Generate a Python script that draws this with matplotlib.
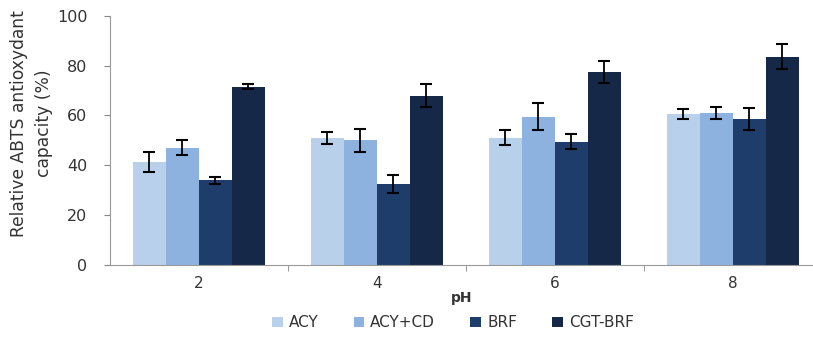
import matplotlib.pyplot as plt
import numpy as np

plt.rcParams['font.family'] = ['DejaVu Sans']

ph = ['2', '4', '6', '8']
series = ['ACY', 'ACY+CD', 'BRF', 'CGT-BRF']
acy = [41.5, 51, 51, 60.5]
acy_cd = [47, 50, 59.5, 61]
brf = [34, 32.5, 49.5, 58.5]
cgt_brf = [71.5, 68, 77.5, 83.5]
err_acy = [4, 2.5, 3, 2]
err_acy_cd = [3, 4.5, 5.5, 2.5]
err_brf = [1.5, 3.5, 3, 4.5]
err_cgt_brf = [1, 4.5, 4.5, 5]

values = [acy, acy_cd, brf, cgt_brf]
errors = [err_acy, err_acy_cd, err_brf, err_cgt_brf]
colors = ['#b9d0ea', '#8db2e0', '#1f3d6b', '#152847']

fig = plt.figure(figsize=(8.13, 3.6), dpi=100)
ax = fig.add_axes([0.135, 0.264, 0.865, 0.692])

x = np.arange(len(ph))
w = 0.185
for i, (v, e, c, name) in enumerate(zip(values, errors, colors, series)):
    pos = x + (i - 1.5) * w
    ax.bar(pos, v, width=w, color=c, label=name)
    ax.errorbar(pos, v, yerr=e, fmt='none', ecolor='black', elinewidth=1.3,
                capsize=4, capthick=1.5)

ax.set_ylim(0, 100)
ax.set_yticks(range(0, 101, 20))
ax.set_xlim(-0.5, 3.45)
ax.set_xticks(x)
ax.set_xticklabels(ph)
ax.set_xticks(np.arange(0.5, 3.5, 1), minor=True)
ax.tick_params(axis='x', which='major', length=0, pad=8, labelsize=11, colors='#333333')
ax.tick_params(axis='x', which='minor', length=4, color='#888888')
ax.tick_params(axis='y', length=4, color='#888888', labelsize=11.5, labelcolor='#333333',
               pad=12)

for s in ['top', 'right']:
    ax.spines[s].set_visible(False)
ax.spines['left'].set_color('#999999')
ax.spines['bottom'].set_color('#999999')

ax.set_xlabel('pH', fontsize=10, fontweight='bold', color='#333333', labelpad=0)
ax.set_ylabel('Relative ABTS antioxydant\ncapacity (%)', fontsize=12.3, color='#333333',
              linespacing=1.45)
ax.yaxis.set_label_coords(-0.081, 0.568)

fig.legend(loc='center', bbox_to_anchor=(0.557, 0.103), ncol=4, frameon=False,
           fontsize=11, handlelength=0.7, handleheight=0.7, columnspacing=2.3,
           handletextpad=0.4, labelcolor='#333333')

fig.savefig('out.png')
